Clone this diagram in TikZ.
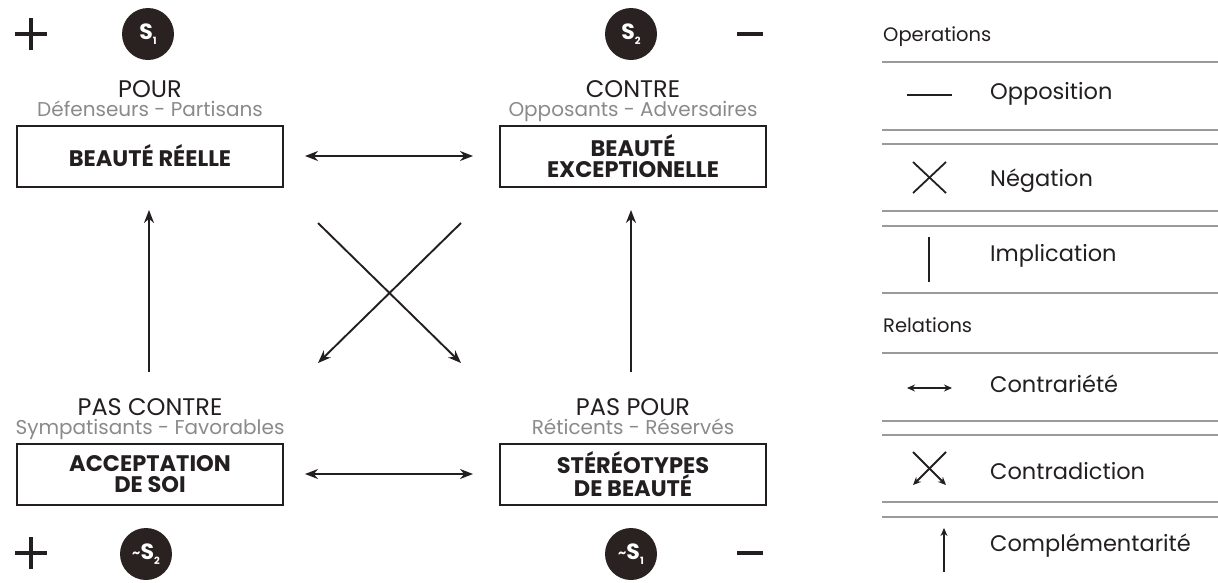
\documentclass[tikz,border=0pt]{standalone}
\usepackage{fontspec}
\setmainfont{Poppins}
\usetikzlibrary{arrows.meta}
\definecolor{ink}{HTML}{231F20}
\definecolor{dot}{HTML}{2A2220}
\definecolor{sub}{HTML}{8A8A8A}
\definecolor{rule}{HTML}{9A9A9A}
\tikzset{
  box/.style={draw=ink, line width=2pt, minimum width=266pt, minimum height=61pt, align=center, font=\fontsize{22.5}{20.5}\selectfont\bfseries, text=ink, inner sep=0pt},
  title/.style={font=\fontsize{24}{24}\selectfont, text=ink, inner sep=0pt, anchor=base},
  subt/.style={font=\fontsize{20}{20}\selectfont, text=sub, inner sep=0pt, anchor=base},
  sdot/.style={circle, fill=dot, minimum size=52pt, inner sep=0pt, text=white, font=\fontsize{22}{22}\selectfont\bfseries},
  rel/.style={draw=ink, line width=1.9pt, -{Stealth[length=13pt,width=10pt]}},
  rel2/.style={draw=ink, line width=1.9pt, {Stealth[length=13pt,width=10pt]}-{Stealth[length=13pt,width=10pt]}},
  leg/.style={font=\fontsize{22.5}{23}\selectfont, text=ink, anchor=west, inner sep=0pt},
  legh/.style={font=\fontsize{19.5}{20}\selectfont, text=ink, anchor=west, inner sep=0pt},
  hr/.style={draw=rule, line width=1.1pt},
  sym/.style={draw=ink, line width=1.8pt},
  bar/.style={draw=ink, line width=4.5pt},
}
\newcommand{\subs}[1]{\raisebox{-0.45ex}{\fontsize{10}{10}\selectfont #1}}
\newcommand{\tld}{\raisebox{0.15ex}{\fontsize{13}{13}\selectfont\char`~}}
\begin{document}
\begin{tikzpicture}[x=1pt,y=-1pt]
\useasboundingbox (0,0) rectangle (1218,582);
% plus / minus signs
\coordinate (pa) at (31,34);
\draw[bar] ([xshift=-16pt]pa) -- ([xshift=16pt]pa);
\draw[bar] ([yshift=-16pt]pa) -- ([yshift=16pt]pa);
\coordinate (pb) at (31,553);
\draw[bar] ([xshift=-16pt]pb) -- ([xshift=16pt]pb);
\draw[bar] ([yshift=-16pt]pb) -- ([yshift=16pt]pb);
\coordinate (ma) at (750,34);
\draw[bar] ([xshift=-13pt]ma) -- ([xshift=13pt]ma);
\coordinate (mb) at (750,553);
\draw[bar] ([xshift=-13pt]mb) -- ([xshift=13pt]mb);
% dots
\node[sdot] (s1) at (148,34) {S\subs{1}};
\node[sdot] (s2) at (631,34) {S\subs{2}};
\node[sdot] (ns2) at (146,554) {\tld S\subs{2}};
\node[sdot] (ns1) at (631,554) {\tld S\subs{1}};
% titles
\node[title] (t1) at (150,97) {POUR};
\node[subt] (u1) at (150,116) {Défenseurs - Partisans};
\node[title] (t2) at (633,97) {CONTRE};
\node[subt] (u2) at (633,116) {Opposants - Adversaires};
\node[title] (t3) at (150,415) {PAS CONTRE};
\node[subt] (u3) at (150,434) {Sympatisants - Favorables};
\node[title] (t4) at (633,415) {PAS POUR};
\node[subt] (u4) at (633,434) {Réticents - Réservés};
% boxes
\node[box] (a) at (150,156) {BEAUTÉ RÉELLE};
\node[box] (b) at (633,156) {BEAUTÉ\\EXCEPTIONELLE};
\node[box] (c) at (150,474) {ACCEPTATION\\DE SOI};
\node[box] (d) at (633,474) {STÉRÉOTYPES\\DE BEAUTÉ};
% connector end points
\coordinate (ab1) at (305,156); \coordinate (ab2) at (473,156);
\coordinate (cd1) at (305,474); \coordinate (cd2) at (473,474);
\coordinate (ca1) at (149,372); \coordinate (ca2) at (149,210);
\coordinate (db1) at (631,372); \coordinate (db2) at (631,210);
\coordinate (x1) at (318,223); \coordinate (x2) at (461,363);
\coordinate (x3) at (461,223); \coordinate (x4) at (318,363);
\draw[rel2] (ab1) -- (ab2);
\draw[rel2] (cd1) -- (cd2);
\draw[rel] (ca1) -- (ca2);
\draw[rel] (db1) -- (db2);
\draw[rel] (x1) -- (x2);
\draw[rel] (x3) -- (x4);
% legend
\node[legh] (ops) at (883,37) {Operations};
\draw[hr] (882,62) -- (1218,62);
\draw[sym] (907,95) -- (952,95);
\node[leg] (l1) at (990,94) {Opposition};
\draw[hr] (882,130) -- (1218,130);
\draw[hr] (882,144) -- (1218,144);
\draw[sym] (913,162) -- (946,193);
\draw[sym] (946,162) -- (913,193);
\node[leg] (l2) at (990,181) {Négation};
\draw[hr] (882,211) -- (1218,211);
\draw[hr] (882,226) -- (1218,226);
\draw[sym] (929,237) -- (929,282);
\node[leg] (l3) at (990,256) {Implication};
\draw[hr] (882,293) -- (1218,293);
\node[legh] (rels) at (883,325) {Relations};
\draw[hr] (882,353) -- (1218,353);
\draw[sym, {Stealth[length=8pt,width=7pt]}-{Stealth[length=8pt,width=7pt]}] (907,388) -- (952,388);
\node[leg] (l4) at (990,384) {Contrariété};
\draw[hr] (882,421) -- (1218,421);
\draw[hr] (882,435) -- (1218,435);
\draw[sym, -{Stealth[length=8pt,width=7pt]}] (913,452) -- (946,485);
\draw[sym, -{Stealth[length=8pt,width=7pt]}] (946,452) -- (913,485);
\node[leg] (l5) at (990,471) {Contradiction};
\draw[hr] (882,502) -- (1218,502);
\draw[hr] (882,517) -- (1218,517);
\draw[sym, -{Stealth[length=8pt,width=7pt]}] (944,572) -- (944,528);
\node[leg] (l6) at (990,546) {Complémentarité};
\end{tikzpicture}
\end{document}
